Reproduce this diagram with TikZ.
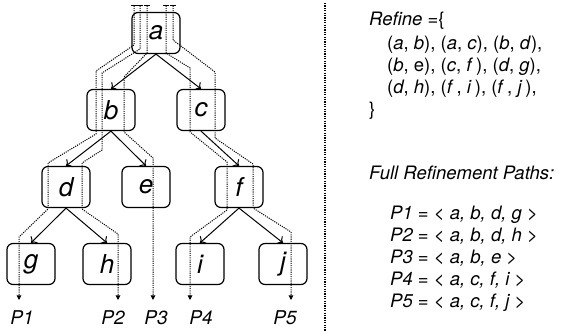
\documentclass[tikz,border=0pt]{standalone}
\usepackage{fontspec}
\setmainfont{TeX Gyre Heros}
\usetikzlibrary{arrows.meta}
\begin{document}
\begin{tikzpicture}[x=1pt,y=-1pt,
  state/.style={draw, line width=1.2pt, rounded corners=6pt,
    minimum width=48pt, minimum height=41pt, inner sep=0pt,
    font=\fontsize{26}{26}\selectfont\itshape},
  refine/.style={line width=1pt, -{To[length=5pt,width=10pt]}},
  trace/.style={line width=1pt, dash pattern=on 1.1pt off 1.1pt,
    {Bar[width=6pt,line width=0.9pt]}-{Triangle[length=4.5pt,width=4.5pt]}},
  plabel/.style={font=\fontsize{19}{19}\selectfont\itshape, inner sep=0pt},
  txt/.style={anchor=base west, font=\fontsize{18.5}{18.5}\selectfont, inner sep=0pt}]
\useasboundingbox (0,0) rectangle (566,334);

% refinement tree
\node[state] (a) at (156,33)  {a};
\node[state] (b) at (111,110) {b};
\node[state] (c) at (201,110) {c};
\node[state] (d) at (66,187)  {d};
\node[state] (e) at (146,187) {e};
\node[state] (f) at (239,187) {f};
\node[state] (g) at (31,264)  {g};
\node[state] (h) at (107,264) {h};
\node[state] (i) at (200,264) {i};
\node[state] (j) at (283,264) {j};

\draw[refine] (a.south) -- (b.north);
\draw[refine] (a.south) -- (c.north);
\draw[refine] (b.south) -- (d.north);
\draw[refine] (b.south) -- (e.north);
\draw[refine] (c.south) -- (f.north);
\draw[refine] (d.south) -- (g.north);
\draw[refine] (d.south) -- (h.north);
\draw[refine] (f.south) -- (i.north);
\draw[refine] (f.south) -- (j.north);

% start and end points of the full refinement paths
\coordinate (s1) at (134,5);  \coordinate (t1) at (19,300);
\coordinate (s2) at (140,5);  \coordinate (t2) at (118,300);
\coordinate (s3) at (147,5);  \coordinate (t3) at (153,300);
\coordinate (s4) at (166,5);  \coordinate (t4) at (190,300);
\coordinate (s5) at (173,5);  \coordinate (t5) at (291,300);

\draw[trace] (s1) -- (134,45) -- (96,71) -- (96,134) -- (48,163)
  -- (48,209) -- (19,237) -- (t1);
\draw[trace] (s2) -- (140,49) -- (102,73) -- (102,150) -- (82,163)
  -- (82,209) -- (118,234) -- (t2);
\draw[trace] (s3) -- (147,53) -- (124,77) -- (124,132) -- (153,158)
  -- (t3);
\draw[trace] (s4) -- (166,53) -- (190,68) -- (190,132) -- (227,162)
  -- (227,210) -- (190,237) -- (t4);
\draw[trace] (s5) -- (173,40) -- (215,72) -- (215,138) -- (253,164)
  -- (253,208) -- (291,232) -- (t5);

\node[plabel] (p1) at (22,318)  {P1};
\node[plabel] (p2) at (113,318) {P2};
\node[plabel] (p3) at (156,318) {P3};
\node[plabel] (p4) at (201,318) {P4};
\node[plabel] (p5) at (285,318) {P5};

% separator
\coordinate (sepT) at (325,3);
\coordinate (sepB) at (325,331);
\draw[line width=1.4pt, dash pattern=on 1.2pt off 1.2pt] (sepT) -- (sepB);

% refinement relation
\node[txt] (r0) at (369,26)  {\textit{Refine} =\{};
\node[txt] (r1) at (387,50)  {(\textit{a}, \textit{b}), (\textit{a}, \textit{c}), (\textit{b}, \textit{d}),};
\node[txt] (r2) at (387,72)  {(\textit{b}, e), (\textit{c}, \textit{f}\,), (\textit{d}, \textit{g}),};
\node[txt] (r3) at (387,94)  {(\textit{d}, \textit{h}), (\textit{f}\,, \textit{i}\,), (\textit{f}\,, \textit{j}\,),};
\node[txt] (r4) at (369,116) {\}};

% full refinement paths
\node[txt] (fp) at (369,180) {\textit{Full Refinement Paths:}};
\node[txt] (q1) at (390,220) {\textit{P1 = < a, b, d, g >}};
\node[txt] (q2) at (390,242) {\textit{P2 = < a, b, d, h >}};
\node[txt] (q3) at (390,264) {\textit{P3 = < a, b, e >}};
\node[txt] (q4) at (390,286) {\textit{P4 = < a, c, f, i >}};
\node[txt] (q5) at (390,308) {\textit{P5 = < a, c, f, j >}};
\end{tikzpicture}
\end{document}
